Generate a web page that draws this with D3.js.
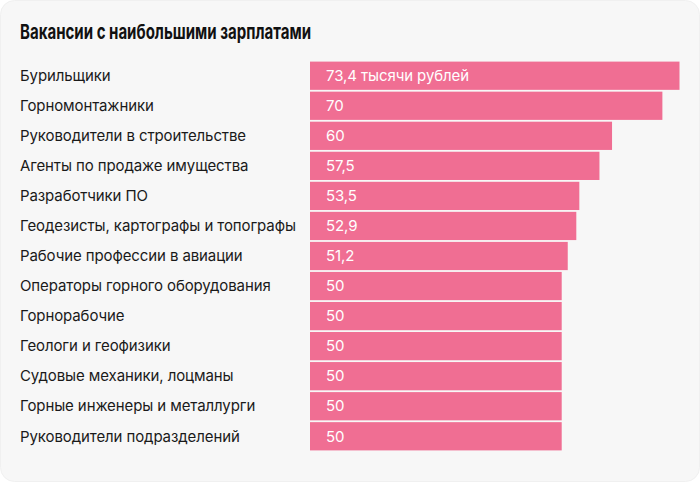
<!DOCTYPE html>
<html>
<head>
<meta charset="utf-8">
<script src="https://cdn.jsdelivr.net/npm/d3@7/dist/d3.min.js"></script>
<style>
  html, body { margin: 0; padding: 0; background: #ffffff; }
  svg { display: block; }
</style>
</head>
<body>
<script>
const title = "Вакансии с наибольшими зарплатами";
const categories = [
  "Бурильщики",
  "Горномонтажники",
  "Руководители в строительстве",
  "Агенты по продаже имущества",
  "Разработчики ПО",
  "Геодезисты, картографы и топографы",
  "Рабочие профессии в авиации",
  "Операторы горного оборудования",
  "Горнорабочие",
  "Геологи и геофизики",
  "Судовые механики, лоцманы",
  "Горные инженеры и металлурги",
  "Руководители подразделений"
];
const values = [73.4, 70, 60, 57.5, 53.5, 52.9, 51.2, 50, 50, 50, 50, 50, 50];
const valueLabels = ["73,4 тысячи рублей", "70", "60", "57,5", "53,5", "52,9", "51,2", "50", "50", "50", "50", "50", "50"];

const W = 700, H = 482;
const FONT = "Inter, 'Noto Sans', sans-serif";
const svg = d3.select("body").append("svg").attr("width", W).attr("height", H);

svg.append("rect").attr("x", 0.5).attr("y", 0.5).attr("width", W - 1).attr("height", H - 1)
  .attr("rx", 14).attr("fill", "#f7f7f7").attr("stroke", "#f0f0f0");

svg.append("text").attr("x", 20).attr("y", 39)
  .attr("font-family", FONT).attr("font-weight", 700).attr("font-size", 20.5)
  .attr("fill", "#111")
  .attr("textLength", 291).attr("lengthAdjust", "spacingAndGlyphs")
  .text(title);

const x = d3.scaleLinear().domain([0, 73.4]).range([310, 679.5]);
const y = d3.scaleBand().domain(categories).range([61, 451]).paddingInner(0.06).paddingOuter(0.02);

const g = svg.append("g");
const rows = g.selectAll("g.row").data(categories).join("g").attr("class", "row");

rows.append("rect")
  .attr("x", x(0))
  .attr("y", d => y(d))
  .attr("width", (d, i) => x(values[i]) - x(0))
  .attr("height", y.bandwidth())
  .attr("fill", "#f06e93");

rows.append("text")
  .attr("x", 20)
  .attr("y", d => y(d) + y.bandwidth() / 2)
  .attr("dy", "0.35em")
  .attr("font-family", FONT).attr("font-size", 15)
  .attr("letter-spacing", -0.1)
  .attr("fill", "#1a1a1a")
  .text(d => d);

rows.append("text")
  .attr("x", x(0) + 16)
  .attr("y", d => y(d) + y.bandwidth() / 2)
  .attr("dy", "0.35em")
  .attr("font-family", FONT).attr("font-size", 15)
  .attr("letter-spacing", -0.1)
  .attr("fill", "#ffffff")
  .text((d, i) => valueLabels[i]);
</script>
</body>
</html>
